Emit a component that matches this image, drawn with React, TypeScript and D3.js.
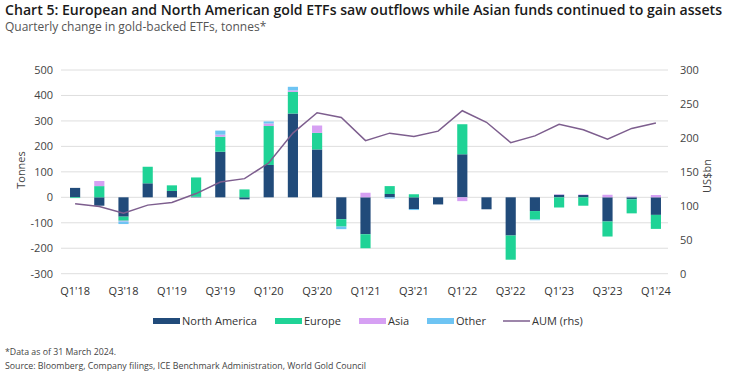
import React from "react";
import * as d3 from "d3";

const quarters = [
  "Q1'18","Q2'18","Q3'18","Q4'18","Q1'19","Q2'19","Q3'19","Q4'19",
  "Q1'20","Q2'20","Q3'20","Q4'20","Q1'21","Q2'21","Q3'21","Q4'21",
  "Q1'22","Q2'22","Q3'22","Q4'22","Q1'23","Q2'23","Q3'23","Q4'23","Q1'24",
];
const northAmerica = [37, -33, -76, 55, 25, 2, 179, -8, 127, 329, 188, -86, -145, 13, -46, -28, 169, -47, -150, -54, 10, 9, -95, -8, -69];
const europe = [-3, 44, -16, 65, 22, 76, 59, 31, 153, 85, 65, -29, -55, 31, 12, 0, 118, 0, -95, -33, -40, -33, -59, -55, -55];
const asia = [0, 20, -3, 0, 0, 0, 8, 0, 10, 6, 29, 0, 18, 0, 0, 0, -15, 0, 0, 0, 2, 2, 10, 3, 9];
const other = [0, 0, -10, 0, 0, 0, 16, 0, 8, 14, 0, -10, 0, -5, -4, 0, 0, 0, 0, -3, 0, 0, 0, 0, 0];
const aum = [103, 99, 89, 101, 105, 118, 135, 140, 163, 207, 237, 230, 196, 207, 202, 210, 240, 223, 193, 203, 220, 212, 198, 214, 222];

const leftTicks = [-300, -200, -100, 0, 100, 200, 300, 400, 500];
const rightTicks = [0, 50, 100, 150, 200, 250, 300];

const seriesKeys = ["North America", "Europe", "Asia", "Other"];
const seriesColors: Record<string, string> = {
  "North America": "#214b7a",
  Europe: "#1fd396",
  Asia: "#d6a0f3",
  Other: "#6ec4f3",
};
const lineColor = "#7d5e8e";
const FONT = "'Open Sans', 'Noto Sans', sans-serif";

export default function App() {
  const W = 730, H = 376;
  const x = d3.scaleBand<number>()
    .domain(quarters.map((_, i) => i))
    .range([63, 668])
    .paddingInner(0.58)
    .paddingOuter(0.29);
  const yL = d3.scaleLinear().domain([-300, 500]).range([273.7, 70]);
  const yR = d3.scaleLinear().domain([0, 300]).range([273.7, 70]);

  const rows = quarters.map((q, i) => ({
    idx: i,
    "North America": northAmerica[i],
    Europe: europe[i],
    Asia: asia[i],
    Other: other[i],
  }));
  const stacked = d3.stack<any>().keys(seriesKeys).offset(d3.stackOffsetDiverging)(rows);

  const line = d3.line<number>()
    .x((_, i) => (x(i) as number) + x.bandwidth() / 2)
    .y((d) => yR(d));

  const legendItems = [
    { label: "North America", x: 153, type: "rect", color: seriesColors["North America"] },
    { label: "Europe", x: 275, type: "rect", color: seriesColors.Europe },
    { label: "Asia", x: 359, type: "rect", color: seriesColors.Asia },
    { label: "Other", x: 427, type: "rect", color: seriesColors.Other },
    { label: "AUM (rhs)", x: 503, type: "line", color: lineColor },
  ];

  return (
    <svg width={W} height={H} style={{ position: "absolute", left: 0, top: 0, background: "#fff" }} fontFamily={FONT}>
      <text x={5} y={15} fontSize={13.5} fontWeight={600} fill="#1a1a1a" textLength={717} lengthAdjust="spacingAndGlyphs">
        Chart 5: European and North American gold ETFs saw outflows while Asian funds continued to gain assets
      </text>
      <text x={5} y={31} fontSize={12} fill="#555">Quarterly change in gold-backed ETFs, tonnes*</text>

      {leftTicks.map((t) => (
        <g key={t}>
          <line x1={61} x2={668} y1={yL(t)} y2={yL(t)} stroke="#dedede" strokeWidth={1} />
          <text x={53} y={yL(t) + 4} fontSize={11} textAnchor="end" fill="#444">{t}</text>
        </g>
      ))}
      {rightTicks.map((t) => (
        <text key={t} x={680} y={yR(t) + 4} fontSize={11} fill="#444">{t}</text>
      ))}
      <text transform={`translate(25,170) rotate(-90)`} fontSize={11} fill="#444" textAnchor="middle">Tonnes</text>
      <text transform={`translate(711,176) rotate(-90)`} fontSize={11} fill="#444" textAnchor="middle">US$bn</text>

      {stacked.map((s) => (
        <g key={s.key} fill={seriesColors[s.key]}>
          {s.map((d, i) => {
            const y0 = yL(d[0]), y1 = yL(d[1]);
            const h = Math.abs(y0 - y1);
            if (h < 0.01) return null;
            return <rect key={i} x={x(i)} width={x.bandwidth()} y={Math.min(y0, y1)} height={h} />;
          })}
        </g>
      ))}

      <path d={line(aum) || ""} fill="none" stroke={lineColor} strokeWidth={1.5} />

      {quarters.map((q, i) => (i % 2 === 0 ? (
        <text key={q} x={(x(i) as number) + x.bandwidth() / 2} y={295} fontSize={11} textAnchor="middle" fill="#333">{q}</text>
      ) : null))}

      {legendItems.map((it) => (
        <g key={it.label}>
          {it.type === "rect"
            ? <rect x={it.x} y={318} width={27} height={6} fill={it.color} />
            : <line x1={it.x} x2={it.x + 27} y1={321} y2={321} stroke={it.color} strokeWidth={1.5} />}
          <text x={it.x + 29} y={325} fontSize={11} fill="#333">{it.label}</text>
        </g>
      ))}

      <text x={5} y={355} fontSize={9} fill="#444" textLength={111} lengthAdjust="spacingAndGlyphs">*Data as of 31 March 2024.</text>
      <text x={5} y={369} fontSize={9} fill="#444" textLength={361} lengthAdjust="spacingAndGlyphs">Source: Bloomberg, Company filings, ICE Benchmark Administration, World Gold Council</text>
    </svg>
  );
}
